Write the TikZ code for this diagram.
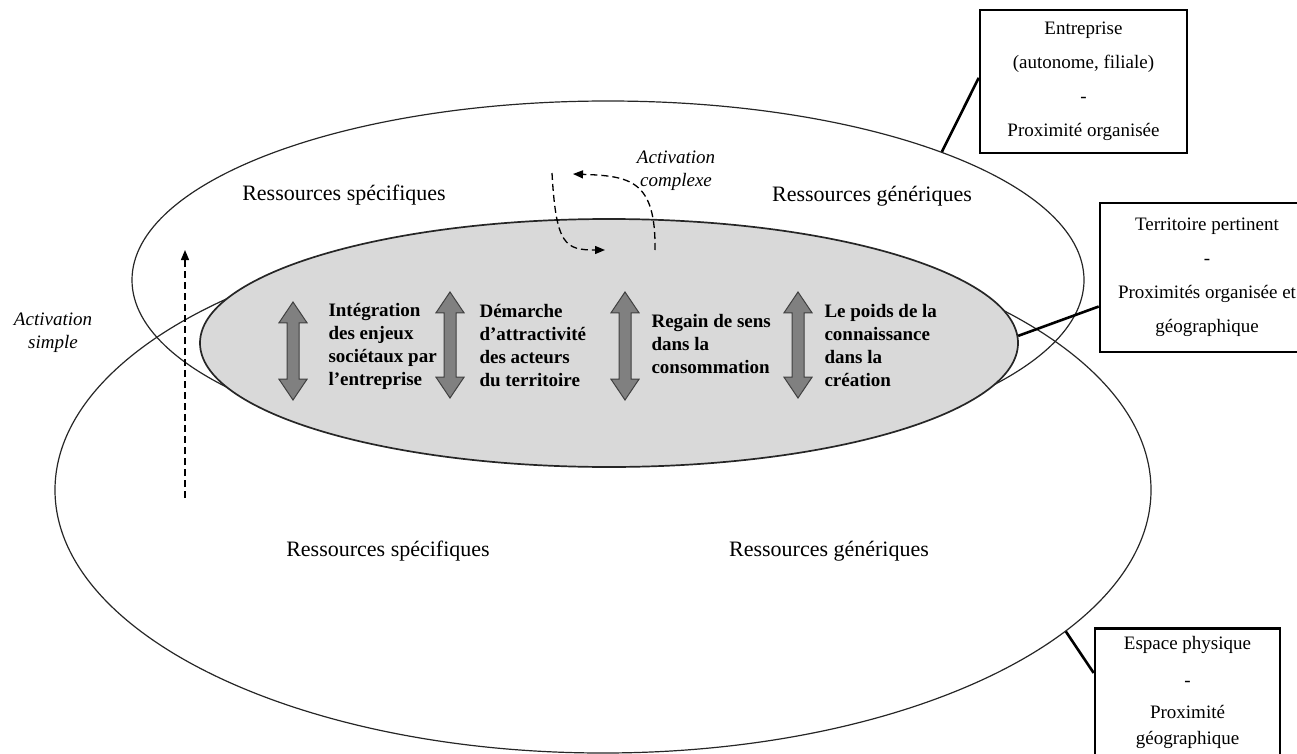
\documentclass[tikz,border=0pt]{standalone}
\usepackage{fontspec}
\setmainfont{Liberation Serif}
\usepackage{tikz}
\usetikzlibrary{positioning,arrows.meta,shapes.geometric,shapes.arrows}
\definecolor{zoneGrey}{HTML}{D9D9D9}
\definecolor{axeGrey}{HTML}{808080}
\definecolor{axeEdge}{HTML}{404040}
\definecolor{lineInk}{HTML}{262626}

\begin{document}
\begin{tikzpicture}[x=1pt,y=-1pt,
    zone/.style={ellipse,draw=lineInk,line width=1.2pt,inner sep=0pt},
    infobox/.style={draw=black,line width=2.6pt,align=center,inner sep=0pt,
      font=\fontsize{19}{34}\selectfont},
    res/.style={font=\fontsize{22}{26}\selectfont},
    axe/.style={align=left,anchor=west,font=\bfseries\fontsize{19}{23}\selectfont},
    dblarrow/.style={double arrow,draw=axeEdge,fill=axeGrey,line width=1pt,rotate=90,
      inner xsep=0pt,inner ysep=5.5pt,double arrow head extend=8pt,double arrow tip angle=68},
    activ/.style={align=center,font=\itshape\fontsize{19}{23}\selectfont},
    link/.style={line width=2.6pt},
    dasharrow/.style={-{Triangle[length=10pt,width=8pt]},line width=1.3pt,dash pattern=on 7pt off 4pt}]
    \clip (0,0) rectangle (1297,754);
    \node[zone,minimum width=1096pt,minimum height=526pt] (esp) at (603,490) {};
    \node[zone,minimum width=952pt,minimum height=358pt] (ent) at (608,280) {};
    \node[zone,fill=zoneGrey,line width=1.7pt,minimum width=818pt,minimum height=248pt] (terr) at (609,343) {};
    \node[res] (rs1) at (344,195) {Ressources spécifiques};
    \node[res] (rg1) at (872,196) {Ressources génériques};
    \node[res] (rs2) at (388,551) {Ressources spécifiques};
    \node[res] (rg2) at (829,551) {Ressources génériques};
    \node[dblarrow,minimum height=98pt] (f1) at (293,351) {};
    \node[dblarrow,minimum height=106pt] (f2) at (450,345) {};
    \node[dblarrow,minimum height=108pt] (f3) at (625,346) {};
    \node[dblarrow,minimum height=106pt] (f4) at (798,345) {};
    \node[axe] (t1) at (325,346) {Intégration\\des enjeux\\sociétaux par\\l’entreprise};
    \node[axe] (t2) at (476,346) {Démarche\\d’attractivité\\des acteurs\\du territoire};
    \node[axe] (t3) at (648,344) {Regain de sens\\dans la\\consommation};
    \node[axe] (t4) at (821,345) {Le poids de la\\connaissance\\dans la\\création};
    \node[activ] (acx) at (676,171) {Activation\\complexe};
    \node[activ] (asp) at (53,333) {Activation\\simple};
    \coordinate (as0) at (185,498);
    \coordinate (as1) at (185,250);
    \coordinate (ac0) at (552,173);
    \coordinate (ac1) at (605,250);
    \coordinate (ac2) at (655,250);
    \coordinate (ac3) at (573,174);
    \draw[dasharrow] (as0) -- (as1);
    \draw[dasharrow] (ac0) .. controls (556,245) and (565,250) .. (ac1);
    \draw[dasharrow] (ac2) .. controls (656,180) and (630,176) .. (ac3);
    \node[infobox,minimum width=207pt,minimum height=143pt] (b1) at (1083.5,81.5)
      {Entreprise\\(autonome, filiale)\\-\\Proximité organisée};
    \node[infobox,minimum width=214pt,minimum height=149pt] (b2) at (1207,277.5)
      {Territoire pertinent\\-\\Proximités organisée et\\géographique};
    \node[infobox,minimum width=185pt,anchor=north,inner ysep=8pt,text depth=60pt,
      font=\fontsize{19}{26}\selectfont] (b3) at (1187.5,627)
      {Espace physique\\[11pt]-\\[6pt]Proximité\\géographique};
    \draw[link] (b1.178) -- (ent.21);
    \draw[link] (b2.-165) -- (terr.1);
    \draw[link] ([yshift=-46pt]b3.north west) -- (esp.-17);
\end{tikzpicture}
\end{document}
